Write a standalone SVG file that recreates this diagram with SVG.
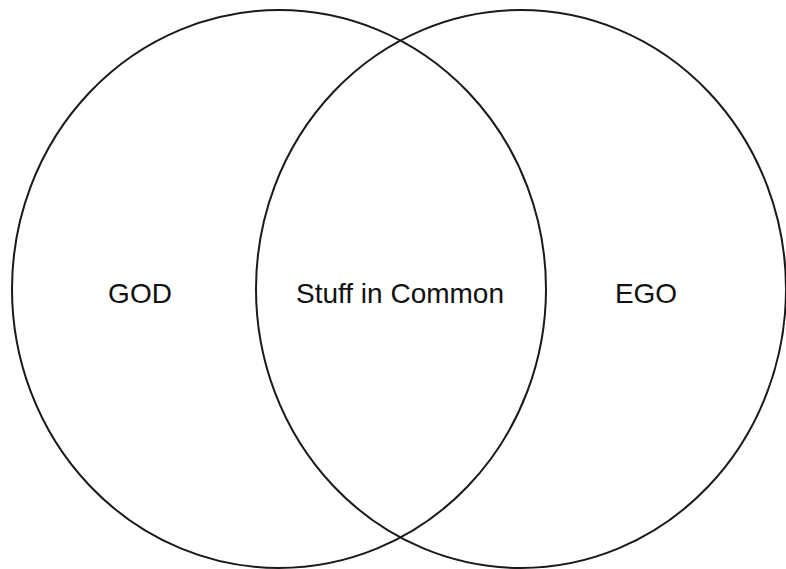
<svg xmlns="http://www.w3.org/2000/svg" width="786" height="569" viewBox="0 0 786 569">
<style>
.c{fill:none;stroke:#1a1a1a;stroke-width:2}
.t{font-family:"Liberation Sans",Arial,sans-serif;font-size:28px;fill:#111;text-anchor:middle}
</style>
<rect width="786" height="569" fill="#fff"/>
<g id="god">
<ellipse class="c" cx="279" cy="289" rx="267" ry="279"/>
<text class="t" x="140" y="303">GOD</text>
</g>
<g id="ego">
<ellipse class="c" cx="521" cy="289" rx="265" ry="279"/>
<text class="t" x="646" y="303">EGO</text>
</g>
<g id="common">
<text class="t" x="400" y="303">Stuff in Common</text>
</g>
<g id="connectors"/>
</svg>
